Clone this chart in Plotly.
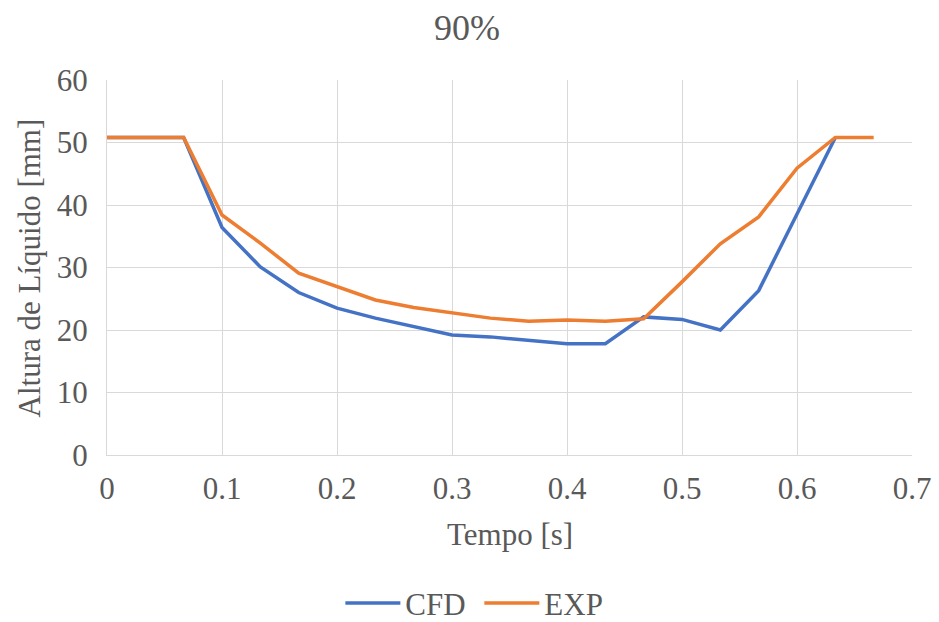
import plotly.graph_objects as go

t = [i / 30 for i in range(21)]
cfd_t = t[:20]
cfd = [50.8, 50.8, 50.8, 36.4, 30.1, 26.0, 23.5, 21.9, 20.5, 19.2, 18.9, 18.3,
       17.8, 17.8, 22.1, 21.7, 20.0, 26.3, 38.7, 50.8]
exp = [50.8, 50.8, 50.8, 38.4, 33.9, 29.1, 26.9, 24.8, 23.6, 22.7, 21.9, 21.4,
       21.6, 21.4, 21.8, 27.7, 33.8, 38.1, 45.9, 50.8, 50.8]

font = "Liberation Serif, serif"
gray = "#595959"
fs = 31

fig = go.Figure()
fig.add_trace(go.Scatter(x=cfd_t, y=cfd, mode="lines", name="CFD",
                         line=dict(color="#4472C4", width=3.5)))
fig.add_trace(go.Scatter(x=t, y=exp, mode="lines", name="EXP",
                         line=dict(color="#ED7D31", width=3.5)))

fig.update_layout(
    width=939, height=622,
    margin=dict(l=107, r=27, t=80, b=167),
    paper_bgcolor="white", plot_bgcolor="white",
    font=dict(family=font, color=gray, size=fs),
    xaxis=dict(range=[0, 0.7], tickvals=[0, 0.1, 0.2, 0.3, 0.4, 0.5, 0.6, 0.7],
               ticktext=["0", "0.1", "0.2", "0.3", "0.4", "0.5", "0.6", "0.7"],
               showgrid=True, gridcolor="#D9D9D9", gridwidth=1, automargin=False,
               showline=True, linecolor="#D9D9D9", linewidth=1, zeroline=False,
               ticks="", ticklabelstandoff=6, tickfont=dict(family=font, size=fs, color=gray)),
    yaxis=dict(range=[0, 60], tickvals=[0, 10, 20, 30, 40, 50, 60],
               showgrid=True, gridcolor="#D9D9D9", gridwidth=1, automargin=False,
               showline=True, linecolor="#D9D9D9", linewidth=1, zeroline=False,
               ticks="", ticklabelstandoff=12, tickfont=dict(family=font, size=fs, color=gray)),
    legend=dict(orientation="h", xref="container", yref="container",
                x=0.5105, xanchor="center", y=0.03, yanchor="middle",
                font=dict(family=font, size=fs, color=gray), itemwidth=55,
                entrywidth=69, tracegroupgap=0),
    showlegend=True,
    annotations=[
        dict(text="90%", xref="paper", yref="paper", x=0.447, y=1.1387,
             xanchor="center", yanchor="middle", showarrow=False,
             font=dict(family=font, size=36, color=gray)),
        dict(text="Tempo [s]", xref="paper", yref="paper", x=0.5, y=-0.2133,
             xanchor="center", yanchor="middle", showarrow=False,
             font=dict(family=font, size=fs, color=gray)),
        dict(text="Altura de Líquido [mm]", xref="paper", yref="paper", x=-0.0957, y=0.5,
             xanchor="center", yanchor="middle", showarrow=False, textangle=-90,
             font=dict(family=font, size=fs, color=gray)),
    ],
)
fig.write_html("out.html")
